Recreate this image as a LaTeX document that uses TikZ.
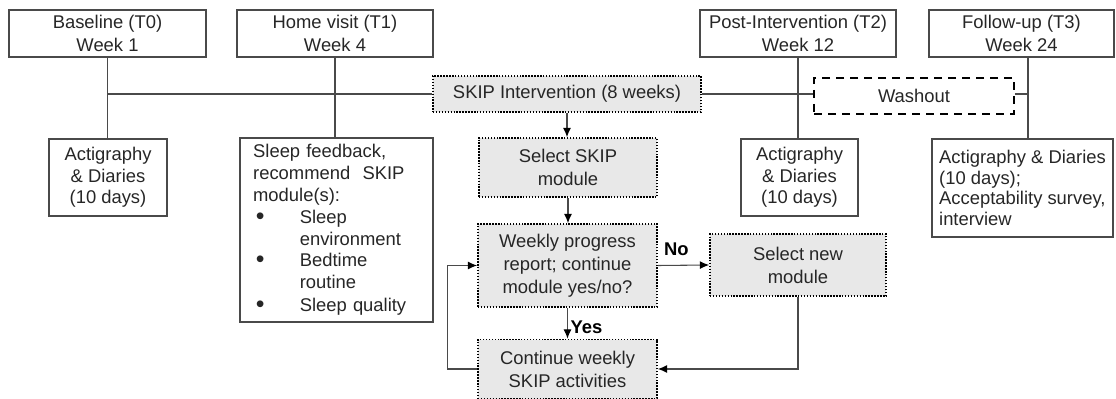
\documentclass[tikz,border=0pt]{standalone}
\usepackage{fontspec}
\setmainfont{Liberation Sans}
\usetikzlibrary{arrows.meta}
\definecolor{txt}{HTML}{262626}
\definecolor{edge}{HTML}{4A4A4A}
\definecolor{gbox}{HTML}{E8E8E8}
\newcommand{\bigbul}{\makebox[35pt][l]{\hspace{2pt}\raisebox{-0.6pt}{\scalebox{1.35}{•}}}}
\tikzset{
  every node/.style={font=\fontsize{13.8}{17.3}\selectfont, text=txt, inner sep=0pt},
  plain/.style={draw=edge, line width=0.8pt, rectangle, align=center},
  gray/.style={draw=black, fill=gbox, line width=1.3pt, dash pattern=on 1.1pt off 1.1pt, rectangle, align=center},
  wbox/.style={draw=black, line width=1.2pt, dash pattern=on 6pt off 4.5pt, rectangle, align=center},
  conn/.style={draw=edge, line width=0.8pt},
  arr/.style={conn, -{Latex[length=7pt,width=6pt,black]}},
  lbl/.style={font=\fontsize{13.8}{16}\bfseries\selectfont, text=black},
  small/.style={font=\fontsize{13.8}{16.3}\selectfont}
}
\begin{document}
\begin{tikzpicture}[x=0.75pt,y=-0.75pt]
\useasboundingbox (0,0) rectangle (1116,399);
% top boxes
\node[plain, minimum width=147.75pt, minimum height=35.25pt] (base) at (107.5,33.5) {Baseline (T0)\\Week 1};
\node[plain, minimum width=147pt, minimum height=35.25pt] (home) at (335,33.5) {Home visit (T1)\\Week 4};
\node[plain, minimum width=147pt, minimum height=35.25pt] (post) at (798,33.5) {Post-Intervention (T2)\\Week 12};
\node[plain, minimum width=138.75pt, minimum height=35.25pt] (foll) at (1021.5,33.5) {Follow-up (T3)\\Week 24};
% timeline boxes
\node[gray, minimum width=201pt, minimum height=27pt] (skip) at (567,94) {SKIP Intervention (8 weeks)};
\node[wbox, minimum width=150pt, minimum height=27pt] (wash) at (914,96) {Washout};
% bottom boxes
\node[plain, small, minimum width=88.5pt, minimum height=57.75pt] (act1) at (108,177.5) {Actigraphy\\\& Diaries\\(10 days)};
\node[plain, minimum width=144.75pt, minimum height=138pt, align=left, text width=125pt] (sleep) at (336.5,230)
  {\fontsize{13.8}{16.4}\selectfont Sleep feedback,\\recommend\ \ SKIP\\module(s):\\
   \bigbul Sleep\\\hspace*{35pt}environment\\
   \bigbul Bedtime\\\hspace*{35pt}routine\\
   \bigbul Sleep quality};
\node[plain, small, minimum width=87.75pt, minimum height=57.75pt] (act2) at (799.5,177.5) {Actigraphy\\\& Diaries\\(10 days)};
\node[plain, minimum width=135.75pt, minimum height=73.5pt, align=left, font=\fontsize{13.8}{15.6}\selectfont] (act3) at (1022.5,188)
  {Actigraphy \& Diaries\\(10 days);\\Acceptability survey,\\interview};
% flow boxes
\node[gray, minimum width=133.5pt, minimum height=44.25pt] (sel) at (568,167.5) {Select SKIP\\module};
\node[gray, minimum width=134.25pt, minimum height=62.25pt] (week) at (567.5,265.5) {Weekly progress\\report; continue\\module yes/no?};
\node[gray, minimum width=134.25pt, minimum height=44.25pt] (cont) at (567.5,369) {Continue weekly\\SKIP activities};
\node[gray, minimum width=132pt, minimum height=46.5pt] (new) at (798,265) {Select new\\module};
% follow-up line coordinates
\coordinate (fl1) at (1028,57);
\coordinate (fl2) at (1028,139);
% timeline connectors
\draw[conn] (base.south) -- (base.south |- act1.north);
\draw[conn] (base.south |- skip.west) -- (skip.west);
\draw[conn] (home.south) -- (home.south |- sleep.north);
\draw[conn] (post.south) -- (post.south |- act2.north);
\draw[conn] (skip.east) -- (skip.east -| wash.west);
\draw[conn] (fl1) -- (fl2);
\draw[conn] (wash.east |- skip.east) -- (skip.east -| fl1);
% flow arrows
\draw[arr] (skip.south) -- (skip.south |- sel.north);
\draw[arr] (sel.south) -- (sel.south |- week.north);
\draw[arr] (week.south) -- node[lbl, right=2pt, pos=0.62] (yes) {Yes} (week.south |- cont.north);
\draw[arr] (week.east) -- node[lbl, above=7pt, pos=0.36] (no) {No} (new.west);
\draw[arr] (new.south) |- (cont.east);
\draw[arr] (cont.west) -- ++(-30,0) |- (week.west);
\end{tikzpicture}
\end{document}
